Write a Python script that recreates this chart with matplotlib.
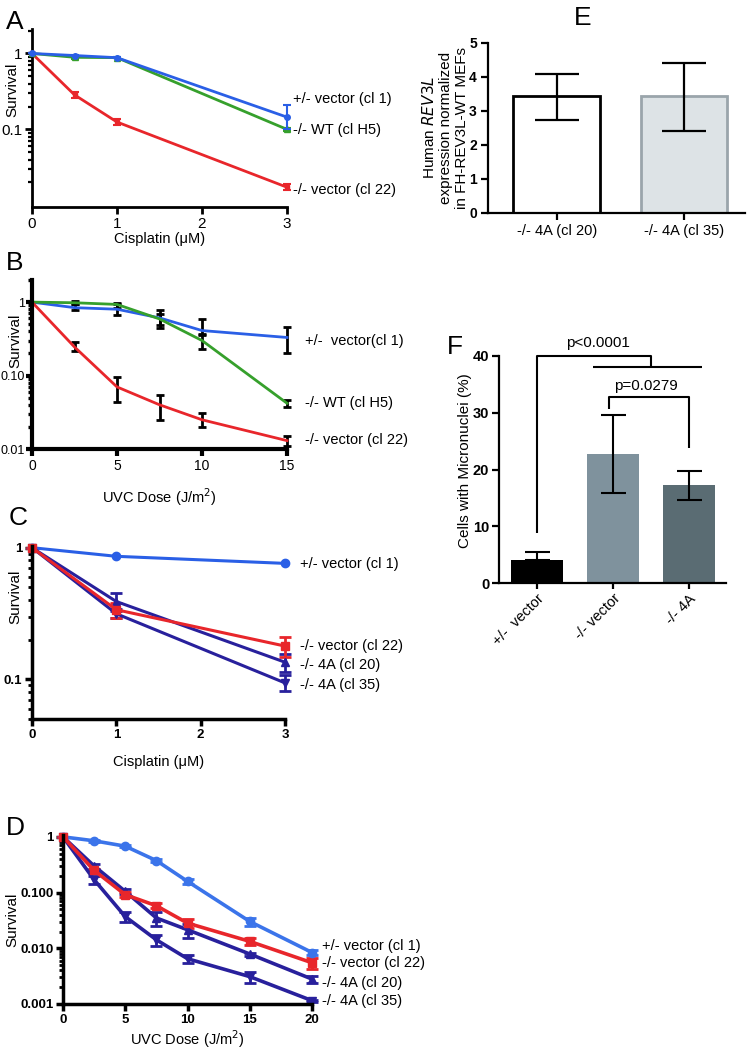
import matplotlib
matplotlib.use("Agg")
import matplotlib.pyplot as plt
import numpy as np
from matplotlib.ticker import FixedLocator, FixedFormatter, NullFormatter, LogLocator

plt.rcParams['font.family'] = ['Liberation Sans', 'DejaVu Sans']

W, H = 756, 1052
fig = plt.figure(figsize=(W / 100, H / 100), dpi=100)

def ax_px(l, r, t, b):
    return fig.add_axes([l / W, 1 - b / H, (r - l) / W, (b - t) / H])

RED = '#e8262b'
BLUE = '#2a5fe6'
GREEN = '#36a02c'
NAVY = '#28209c'
LBLUE = '#3b74ea'

# ---------------- Panel A data ----------------
A_x = [0, 0.5, 1, 3]
A_het_vec = [1.0, 0.94, 0.88, 0.145]
A_het_vec_lo = [0, 0.02, 0.02, 0.045]
A_het_vec_hi = [0, 0.02, 0.02, 0.065]
A_wt = [1.0, 0.89, 0.88, 0.10]
A_wt_err = [0, 0.05, 0.02, 0.004]
A_ko_vec = [1.0, 0.285, 0.125, 0.0173]
A_ko_vec_err = [0, 0.025, 0.01, 0.0015]

# ---------------- Panel B data ----------------
B_x = [0, 2.5, 5, 7.5, 10, 15]
B_het_vec = [1.0, 0.84, 0.80, 0.61, 0.41, 0.33]
B_het_lo = [0, 0.05, 0.14, 0.17, 0.04, 0.13]
B_het_hi = [0, 0.11, 0.15, 0.18, 0.18, 0.13]
B_wt = [1.0, 0.98, 0.93, 0.59, 0.30, 0.042]
B_wt_lo = [0, 0.05, 0.10, 0.10, 0.07, 0.005]
B_wt_hi = [0, 0.05, 0.05, 0.10, 0.06, 0.004]
B_ko_vec = [1.0, 0.245, 0.070, 0.040, 0.025, 0.013]
B_ko_lo = [0, 0.03, 0.026, 0.015, 0.005, 0.002]
B_ko_hi = [0, 0.04, 0.026, 0.014, 0.006, 0.002]

# ---------------- Panel C data ----------------
C_x = [0, 1, 3]
C_het_vec = [1.0, 0.86, 0.76]
C_ko_vec = [1.0, 0.338, 0.179]
C_ko_vec_err = [0, 0.045, 0.03]
C_4a20 = [1.0, 0.39, 0.135]
C_4a20_err = [0, 0.06, 0.022]
C_4a35 = [1.0, 0.315, 0.094]
C_4a35_err = [0, 0.025, 0.013]

# ---------------- Panel D data ----------------
D_x = [0, 2.5, 5, 7.5, 10, 15, 20]
D_het_vec = [1.0, 0.85, 0.68, 0.375, 0.159, 0.0303, 0.0084]
D_het_err = [0, 0.03, 0.03, 0.02, 0.015, 0.005, 0.0008]
D_ko_vec = [1.0, 0.25, 0.0916, 0.058, 0.0283, 0.0133, 0.0055]
D_ko_err = [0, 0.02, 0.01, 0.006, 0.005, 0.0018, 0.0012]
D_4a20 = [1.0, 0.30, 0.105, 0.035, 0.0215, 0.0079, 0.0028]
D_4a20_err = [0, 0.03, 0.012, 0.01, 0.006, 0.0005, 0.0004]
D_4a35 = [1.0, 0.17, 0.037, 0.0142, 0.0065, 0.0031, 0.00115]
D_4a35_err = [0, 0.03, 0.007, 0.003, 0.001, 0.0007, 0.00005]

# ---------------- Panel E data ----------------
E_cats = ['-/- 4A (cl 20)', '-/- 4A (cl 35)']
E_vals = [3.42, 3.42]
E_lo = [0.69, 1.02]
E_hi = [0.66, 0.99]

# ---------------- Panel F data ----------------
F_cats = ['+/-  vector', '-/- vector', '-/- 4A']
F_vals = [4.1, 22.8, 17.3]
F_err_lo = [0, 7.0, 2.6]
F_err_hi = [1.35, 6.7, 2.4]


def style_log(ax, yticks, ylabels, lw_spine, bold, fs=10):
    ax.set_yscale('log')
    for s in ['top', 'right']:
        ax.spines[s].set_visible(False)
    for s in ['left', 'bottom']:
        ax.spines[s].set_linewidth(lw_spine)
    ax.yaxis.set_major_locator(FixedLocator(yticks))
    ax.yaxis.set_major_formatter(FixedFormatter(ylabels))
    ax.yaxis.set_minor_locator(LogLocator(base=10, subs=np.arange(2, 10)))
    ax.yaxis.set_minor_formatter(NullFormatter())
    ax.tick_params(axis='both', which='major', width=lw_spine, length=5,
                   labelsize=fs, pad=2)
    ax.tick_params(axis='y', which='minor', width=lw_spine * 0.8, length=3)
    if bold:
        for t in ax.get_xticklabels() + ax.get_yticklabels():
            t.set_fontweight('bold')


def curve_label(ax, text, y, fs=10.5, dx=4):
    ax.annotate(text, xy=(1, y), xycoords=('axes fraction', 'data'),
                xytext=(dx, 0), textcoords='offset points', va='center',
                ha='left', fontsize=fs, annotation_clip=False)


def place_ylabel(ax, x_px, l_px, r_px, yfrac=0.5):
    ax.yaxis.set_label_coords((x_px - l_px) / (r_px - l_px), yfrac)

# ================= A =================
axA = ax_px(32, 287, 29, 207)
axA.errorbar(A_x, A_ko_vec, yerr=A_ko_vec_err, color=RED, lw=2, marker='s', ms=3,
             capsize=3, capthick=1.5, elinewidth=1.5, clip_on=False, zorder=3)
axA.errorbar(A_x, A_wt, yerr=A_wt_err, color=GREEN, lw=2, marker='^', ms=5,
             capsize=3, capthick=1.5, elinewidth=1.5, clip_on=False, zorder=3)
axA.errorbar(A_x, A_het_vec, yerr=[A_het_vec_lo, A_het_vec_hi], color=BLUE, lw=2,
             marker='o', ms=4, capsize=3, capthick=1.5, elinewidth=1.5,
             clip_on=False, zorder=4)
axA.set_xlim(0, 3)
axA.set_ylim(0.0095, 2.1)
axA.set_xticks([0, 1, 2, 3])
style_log(axA, [1, 0.1], ['1', '0.1'], 2, False, fs=11)
axA.set_xlabel('Cisplatin (\u03bcM)', fontsize=10.5, labelpad=1)
axA.set_ylabel('Survival', fontsize=11, va='center')
place_ylabel(axA, 12, 32, 287, 0.66)
curve_label(axA, '+/- vector (cl 1)', 0.254)
curve_label(axA, '-/- WT (cl H5)', 0.099)
curve_label(axA, '-/- vector (cl 22)', 0.016)
fig.text(15 / W, 1 - 22 / H, 'A', fontsize=19, ha='center', va='center')

# ================= B =================
axB = ax_px(32, 287, 280, 449)
ekw = dict(ecolor='black', capsize=3, capthick=2, elinewidth=2, clip_on=False)
axB.errorbar(B_x, B_het_vec, yerr=[B_het_lo, B_het_hi], color=BLUE, lw=2, **ekw)
axB.errorbar(B_x, B_wt, yerr=[B_wt_lo, B_wt_hi], color=GREEN, lw=2, **ekw)
axB.errorbar(B_x, B_ko_vec, yerr=[B_ko_lo, B_ko_hi], color=RED, lw=2, **ekw)
axB.set_xlim(0, 15)
axB.set_ylim(0.01, 2.0)
axB.set_xticks([0, 5, 10, 15])
style_log(axB, [1, 0.1, 0.01], ['1', '0.10', '0.01'], 3, False, fs=10)
axB.tick_params(axis='y', which='major', pad=1, length=4, labelsize=9)
axB.set_xlabel('UVC Dose (J/m$^{2}$)', fontsize=10.5, labelpad=10)
axB.set_ylabel('Survival', fontsize=11, va='center')
place_ylabel(axB, 15, 32, 287, 0.64)
curve_label(axB, '+/-  vector(cl 1)', 0.30, dx=13)
curve_label(axB, '-/- WT (cl H5)', 0.042, dx=13)
curve_label(axB, '-/- vector (cl 22)', 0.0133, dx=13)
fig.text(15 / W, 1 - 263 / H, 'B', fontsize=19, ha='center', va='center')

# ================= C =================
axC = ax_px(32, 285, 546, 719)
ck = dict(capsize=4, capthick=2, elinewidth=2, clip_on=False, lw=2.2)
axC.errorbar(C_x, C_het_vec, color=BLUE, marker='o', ms=6, **ck)
axC.errorbar(C_x, C_4a20, yerr=C_4a20_err, color=NAVY, marker='^', ms=6, **ck)
axC.errorbar(C_x, C_4a35, yerr=C_4a35_err, color=NAVY, marker='v', ms=6, **ck)
axC.errorbar(C_x, C_ko_vec, yerr=C_ko_vec_err, color=RED, marker='s', ms=6, **ck)
axC.set_xlim(0, 3)
axC.set_ylim(0.05, 1.03)
axC.set_xticks([0, 1, 2, 3])
style_log(axC, [1, 0.1], ['1', '0.1'], 2.5, True, fs=9.5)
axC.set_xlabel('Cisplatin (\u03bcM)', fontsize=10.5, labelpad=10)
axC.set_ylabel('Survival', fontsize=11, va='center')
place_ylabel(axC, 15, 32, 285, 0.705)
curve_label(axC, '+/- vector (cl 1)', 0.75, dx=11)
curve_label(axC, '-/- vector (cl 22)', 0.18, dx=11)
curve_label(axC, '-/- 4A (cl 20)', 0.128, dx=11)
curve_label(axC, '-/- 4A (cl 35)', 0.09, dx=11)
fig.text(18 / W, 1 - 518 / H, 'C', fontsize=19, ha='center', va='center')

# ================= D =================
axD = ax_px(63, 312, 835, 1004)
dk = dict(capsize=4, capthick=2, elinewidth=2, clip_on=False, lw=2.6)
axD.errorbar(D_x, D_het_vec, yerr=D_het_err, color=LBLUE, marker='o', ms=6, **dk)
axD.errorbar(D_x, D_4a20, yerr=D_4a20_err, color=NAVY, marker='^', ms=6, **dk)
axD.errorbar(D_x, D_4a35, yerr=D_4a35_err, color=NAVY, marker='v', ms=6, **dk)
axD.errorbar(D_x, D_ko_vec, yerr=D_ko_err, color=RED, marker='s', ms=6, **dk)
axD.set_xlim(0, 20)
axD.set_ylim(0.001, 1.08)
axD.set_xticks([0, 5, 10, 15, 20])
style_log(axD, [1, 0.1, 0.01, 0.001], ['1', '0.100', '0.010', '0.001'], 2.5, True, fs=9.5)
axD.set_xlabel('UVC Dose (J/m$^{2}$)', fontsize=10.5, labelpad=2)
axD.set_ylabel('Survival', fontsize=11, va='center')
place_ylabel(axD, 12, 63, 312, 0.5)
curve_label(axD, '+/- vector (cl 1)', 0.0112, dx=7)
curve_label(axD, '-/- vector (cl 22)', 0.0055, dx=7)
curve_label(axD, '-/- 4A (cl 20)', 0.0024, dx=7)
curve_label(axD, '-/- 4A (cl 35)', 0.00114, dx=7)
fig.text(15 / W, 1 - 828 / H, 'D', fontsize=19, ha='center', va='center')

# ================= E =================
axE = ax_px(488, 745, 42.7, 212.7)
xe = np.arange(len(E_cats))
axE.bar(xe, E_vals, width=0.68, color=['white', '#dde3e6'],
        edgecolor=['black', '#9aa5ab'], linewidth=2, zorder=2)
axE.errorbar(xe, E_vals, yerr=[E_lo, E_hi], fmt='none', ecolor='black',
             elinewidth=1.6, capsize=16, capthick=1.6, zorder=3)
axE.set_xlim(-0.54, 1.48)
axE.set_ylim(0, 5)
axE.set_xticks(xe)
axE.set_xticklabels(E_cats, fontsize=10.5)
axE.set_yticks([0, 1, 2, 3, 4, 5])
for s in ['top', 'right']:
    axE.spines[s].set_visible(False)
for s in ['left', 'bottom']:
    axE.spines[s].set_linewidth(1.6)
axE.tick_params(width=1.6, length=5, labelsize=10, pad=3)
for t in axE.get_yticklabels():
    t.set_fontweight('bold')
for t in axE.get_xticklabels():
    t.set_fontsize(10.5)
axE.set_ylabel('Human $\\it{REV3L}$\nexpression normalized\nin FH-REV3L-WT MEFs',
               fontsize=11, linespacing=1.2, va='center')
place_ylabel(axE, 445, 488, 745)
fig.text(583 / W, 1 - 18 / H, 'E', fontsize=19, ha='center', va='center')

# ================= F =================
axF = ax_px(499, 726, 355.7, 583.3)
xf = np.arange(len(F_cats))
axF.bar(xf, F_vals, width=0.69, color=['#000000', '#7f929d', '#5a6c73'], zorder=2)
axF.errorbar(xf, F_vals, yerr=[F_err_lo, F_err_hi], fmt='none', ecolor='black',
             elinewidth=1.5, capsize=9, capthick=1.5, zorder=3)
axF.set_xlim(-0.5, 2.49)
axF.set_ylim(0, 40)
axF.set_xticks(xf)
axF.set_xticklabels(F_cats, rotation=45, ha='right', rotation_mode='anchor', fontsize=11)
axF.set_yticks([0, 10, 20, 30, 40])
for s in ['top', 'right']:
    axF.spines[s].set_visible(False)
for s in ['left', 'bottom']:
    axF.spines[s].set_linewidth(1.6)
axF.tick_params(width=1.6, length=5, labelsize=10.5, pad=2)
axF.tick_params(axis='x', length=4)
for t in axF.get_yticklabels():
    t.set_fontweight('bold')
axF.set_ylabel('Cells with Micronuclei (%)', fontsize=11, va='center')
place_ylabel(axF, 465, 499, 726, 0.54)
# significance brackets
bk = dict(color='black', lw=1.5, clip_on=False, solid_capstyle='butt')
axF.plot([0, 0, 1.5, 1.5], [8.8, 40, 40, 37.95], **bk)
axF.plot([0.74, 2.17], [37.95, 37.95], **bk)
axF.text(0.8, 42.2, 'p<0.0001', ha='center', va='center', fontsize=11)
axF.plot([0.95, 0.95, 2.0, 2.0], [30.7, 32.8, 32.8, 23.7], **bk)
axF.text(1.44, 34.6, 'p=0.0279', ha='center', va='center', fontsize=11)
fig.text(455 / W, 1 - 347 / H, 'F', fontsize=19, ha='center', va='center')

fig.savefig('out.png', dpi=100)
